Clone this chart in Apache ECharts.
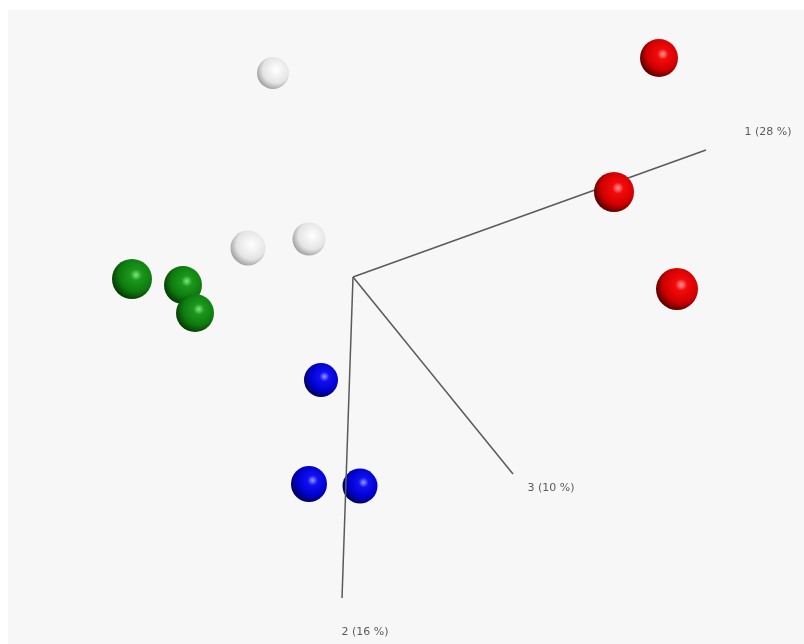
<!DOCTYPE html>
<html>
<head>
<meta charset="utf-8">
<script src="https://cdn.jsdelivr.net/npm/echarts@6/dist/echarts.min.js"></script>
<style>
html,body{margin:0;padding:0;background:#ffffff;}
#chart{width:804px;height:644px;}
</style>
</head>
<body>
<div id="chart"></div>
<script>
// Projected PCA scores (screen-projected coordinates), and apparent sphere diameters (depth cue)
const redX = [659, 614, 677];
const redY = [58, 192, 289];
const redD = [38, 40, 42];
const whiteX = [273, 248, 309];
const whiteY = [73, 248, 239];
const whiteD = [32, 35, 33];
const greenX = [132, 183, 195];
const greenY = [279, 285, 313];
const greenD = [40, 38, 38];
const blueX = [321, 309, 360];
const blueY = [380, 484, 486];
const blueD = [34, 36, 35];

// Axes of the 3D frame: origin and end points of each projected axis
const axisOrigin = [353, 277];
const axisEndX = [706, 342, 513];
const axisEndY = [150, 598, 474];
const axisLabels = ['1 (28 %)', '2 (16 %)', '3 (10 %)'];
const axisLabelX = [768, 365, 551];
const axisLabelY = [132, 632, 488];

function sphere(hi, body, mid, edge) {
  return {
    type: 'radial', x: 0.6, y: 0.4, r: 0.7,
    colorStops: [
      { offset: 0, color: hi },
      { offset: 0.2, color: body },
      { offset: 0.6, color: mid },
      { offset: 1, color: edge }
    ]
  };
}

function pts(xs, ys, ds) {
  return xs.map((x, i) => ({ value: [x, ys[i]], symbolSize: ds[i] }));
}

const groups = [
  { name: 'white', xs: whiteX, ys: whiteY, ds: whiteD, color: sphere('#ffffff', '#f6f6f6', '#e4e4e4', '#8a8a8a') },
  { name: 'green', xs: greenX, ys: greenY, ds: greenD, color: sphere('#7ee87e', '#1c981c', '#0e7a0e', '#012401') },
  { name: 'blue', xs: blueX, ys: blueY, ds: blueD, color: sphere('#9a9aff', '#1010f4', '#0000cc', '#000030') },
  { name: 'red', xs: redX, ys: redY, ds: redD, color: sphere('#ff9c9c', '#f40a0a', '#d00000', '#300000') }
];

const series = [];
axisEndX.forEach((ex, i) => {
  series.push({
    type: 'line', z: i === 1 ? 7 : 2, silent: true, symbol: 'none',
    lineStyle: { color: '#5a5a5a', width: 1.5 },
    data: [axisOrigin, [ex, axisEndY[i]]]
  });
});
groups.forEach(g => {
  series.push({
    type: 'scatter', name: g.name, z: 5, silent: true,
    itemStyle: { color: g.color, opacity: 1 },
    data: pts(g.xs, g.ys, g.ds)
  });
});
series.push({
  type: 'scatter', z: 8, silent: true, symbolSize: 0,
  label: {
    show: true, position: 'inside', formatter: p => p.name,
    color: '#333333', fontFamily: 'DejaVu Sans', fontSize: 11
  },
  data: axisLabels.map((t, i) => ({ name: t, value: [axisLabelX[i], axisLabelY[i]] }))
});

const chart = echarts.init(document.getElementById('chart'));
chart.setOption({
  animation: false,
  backgroundColor: '#ffffff',
  grid: { left: 8, top: 10, right: 0, bottom: 0, show: true, backgroundColor: '#f7f7f7', borderWidth: 0 },
  xAxis: { type: 'value', min: 8, max: 804, show: false },
  yAxis: { type: 'value', min: 10, max: 644, inverse: true, show: false },
  series: series
});
</script>
</body>
</html>
